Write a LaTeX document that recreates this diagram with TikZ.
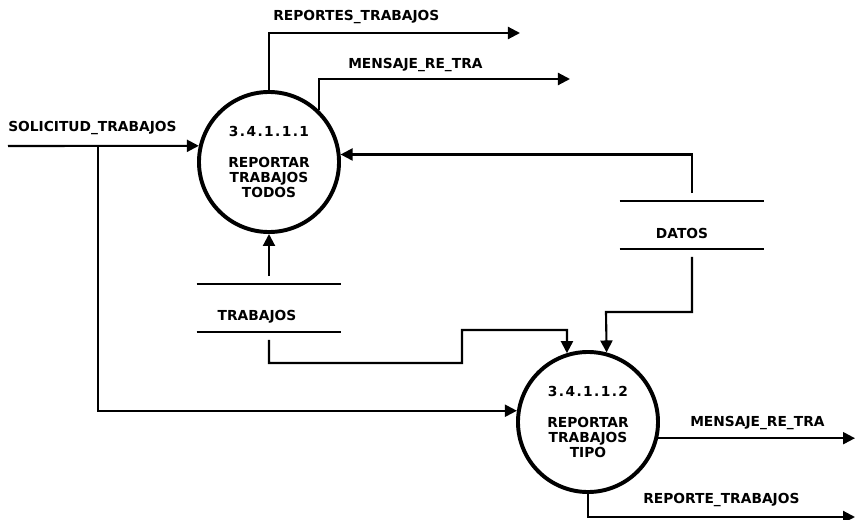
\documentclass[tikz,border=0pt]{standalone}
\usepackage{fontspec}
\setmainfont{DejaVu Sans}
\usetikzlibrary{arrows.meta,positioning}
\newcommand{\dfdfont}{\bfseries\fontsize{9.8}{10.6}\selectfont}

\begin{document}
\begin{tikzpicture}[x=0.025cm, y=-0.025cm,
    proc/.style={draw, circle, line width=2.8pt, minimum size=3.5cm, inner sep=0pt, align=center, font=\dfdfont},
    store/.style={minimum width=3.6cm, minimum height=1.175cm, inner sep=0pt},
    flow/.style={line width=1.5pt, -{Triangle[length=0.3cm, width=0.3cm]}},
    lbl/.style={anchor=west, inner sep=0pt, font=\dfdfont}]
    \useasboundingbox (0,0) rectangle (858,520);
    % processes
    \node[proc] (todos) at (269,162) {3\kern1pt.\kern1pt4\kern1pt.\kern1pt1\kern1pt.\kern1pt1\kern1pt.\kern1pt1\\[11pt] REPORTAR\\TRABAJOS\\TODOS};
    \node[proc] (tipo) at (588,422) {3\kern1pt.\kern1pt4\kern1pt.\kern1pt1\kern1pt.\kern1pt1\kern1pt.\kern1pt2\\[11pt] REPORTAR\\TRABAJOS\\TIPO};
    % stores
    \node[store, label={[font=\dfdfont, xshift=-0.3cm, yshift=-0.22cm]center:TRABAJOS}] (trabajos) at (269,308) {};
    \node[store, label={[font=\dfdfont, xshift=-0.25cm, yshift=-0.22cm]center:DATOS}] (datos) at (692,225) {};
    \draw[line width=1.5pt] (trabajos.north west) -- (trabajos.north east) (trabajos.south west) -- (trabajos.south east);
    \draw[line width=1.5pt] (datos.north west) -- (datos.north east) (datos.south west) -- (datos.south east);
    % flow labels
    \node[lbl] (lsol) at (8,128) {SOLICITUD\_TRABAJOS};
    \node[lbl] (lrep) at (273,17) {REPORTES\_TRABAJOS};
    \node[lbl] (lmen) at (348,65) {MENSAJE\_RE\_TRA};
    \node[lbl] (lmentipo) at (690,423) {MENSAJE\_RE\_TRA};
    \node[lbl] (lreptipo) at (643,500) {REPORTE\_TRABAJOS};
    % free ends
    \coordinate (solIn) at (8,146);
    \coordinate (solBr) at (98,146);
    \coordinate (repOut) at (520,33);
    \coordinate (menOut) at (570,79);
    \coordinate (datBend) at (606,312);
    \coordinate (trabBend) at (462,363);
    \coordinate (trabStep) at (567,330);
    \coordinate (menOutTipo) at (855,438);
    \coordinate (repOutTipo) at (855,517);
    % flows
    \draw[flow] (solIn) -- (todos.167);
    \draw[flow] (solBr) |- (tipo.171);
    \draw[flow] (todos.north) |- (repOut);
    \draw[flow] (todos.46) |- (menOut);
    \draw[flow, shorten <=0.2cm] (datos.north) |- (todos.6);
    \draw[flow, shorten <=0.2cm] (trabajos.north) -- (todos.south);
    \draw[flow, shorten <=0.2cm] (datos.south) |- (datBend) -- (tipo.75);
    \draw[flow, shorten <=0.2cm] (trabajos.south) |- (trabBend) |- (trabStep) -- (tipo.107);
    \draw[flow] (tipo.-13) -- (tipo.-13 -| menOutTipo);
    \draw[flow] (tipo.south) |- (repOutTipo);
\end{tikzpicture}
\end{document}
